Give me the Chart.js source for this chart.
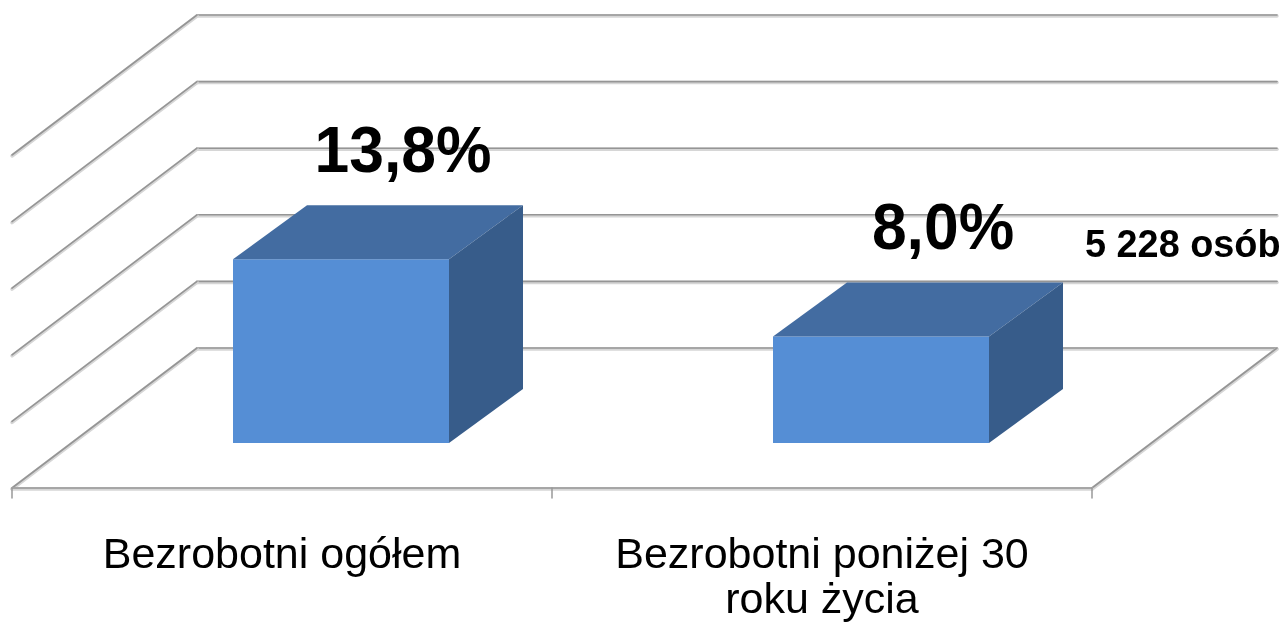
<!DOCTYPE html>
<html>
<head>
<meta charset="utf-8">
<script src="https://cdn.jsdelivr.net/npm/chart.js@4/dist/chart.umd.min.js"></script>
<style>
body { margin: 0; background: #fff; }
</style>
</head>
<body>
<canvas id="chart" width="1288" height="624"></canvas>
<script>
// data
var categories = [["Bezrobotni ogółem"], ["Bezrobotni poniżej 30", "roku życia"]];
var rates = [13.8, 8.0];
var rateLabels = ["13,8%", "8,0%"];
var youngCount = "5 228 osób";

// 3d offsets relative to the bar front plane
var depth = { frontX: -59, frontY: 45, backX: 126, backY: -95, barX: 74, barY: -54 };
var FONT = "'Liberation Sans', Arial, sans-serif";

function gridLine(ctx, x1, y1, x2, y2) {
    ctx.lineCap = 'round';
    ctx.strokeStyle = '#d6d6d6';
    ctx.lineWidth = 3.5;
    ctx.beginPath(); ctx.moveTo(x1, y1 + 1); ctx.lineTo(x2, y2 + 1); ctx.stroke();
    ctx.strokeStyle = '#959595';
    ctx.lineWidth = 1.6;
    ctx.beginPath(); ctx.moveTo(x1, y1); ctx.lineTo(x2, y2); ctx.stroke();
}

// text squeezed a bit horizontally, like the original picture
function squeezedText(ctx, s, x, y, sx) {
    ctx.save();
    ctx.translate(x, y);
    ctx.scale(sx, 1);
    ctx.fillText(s, 0, 0);
    ctx.restore();
}

var box3d = {
    id: 'box3d',
    beforeDatasetsDraw: function(chart) {
        var ctx = chart.ctx, a = chart.chartArea;
        var xs = chart.scales.x, ys = chart.scales.y;
        ctx.save();
        ys.ticks.forEach(function(t) {
            var yb = ys.getPixelForValue(t.value) + depth.backY;
            gridLine(ctx, a.left + depth.backX, yb, a.right + depth.backX, yb);
            gridLine(ctx, a.left + depth.backX, yb, a.left + depth.frontX, yb - depth.backY + depth.frontY);
        });
        var y0 = ys.getPixelForValue(0);
        var yf = y0 + depth.frontY;
        gridLine(ctx, a.right + depth.backX, y0 + depth.backY, a.right + depth.frontX, yf);
        gridLine(ctx, a.left + depth.frontX, yf, a.right + depth.frontX, yf);
        // tick marks on the front edge
        ctx.strokeStyle = '#999999';
        ctx.lineWidth = 1.5;
        for (var i = 0; i <= rates.length; i++) {
            var xt = xs.getPixelForValue(i - 0.5) + depth.frontX;
            ctx.beginPath(); ctx.moveTo(xt, yf); ctx.lineTo(xt, yf + 10); ctx.stroke();
        }
        ctx.restore();
    },
    afterDatasetsDraw: function(chart) {
        var ctx = chart.ctx;
        var meta = chart.getDatasetMeta(0);
        ctx.save();
        meta.data.forEach(function(bar, i) {
            var L = bar.x - bar.width / 2, R = bar.x + bar.width / 2;
            var dx = depth.barX, dy = depth.barY;
            // top
            ctx.fillStyle = '#436ca1';
            ctx.beginPath();
            ctx.moveTo(L, bar.y); ctx.lineTo(R, bar.y);
            ctx.lineTo(R + dx, bar.y + dy); ctx.lineTo(L + dx, bar.y + dy);
            ctx.closePath(); ctx.fill();
            // side
            ctx.fillStyle = '#375c8a';
            ctx.beginPath();
            ctx.moveTo(R, bar.y); ctx.lineTo(R + dx, bar.y + dy);
            ctx.lineTo(R + dx, bar.base + dy); ctx.lineTo(R, bar.base);
            ctx.closePath(); ctx.fill();
            // value label
            ctx.fillStyle = '#000';
            ctx.font = 'bold 65px ' + FONT;
            ctx.textAlign = 'center';
            ctx.textBaseline = 'alphabetic';
            var ly = bar.y + dy - 33;
            squeezedText(ctx, rateLabels[i], bar.x + 62, ly, 0.96);
            if (i === 1) {
                ctx.font = 'bold 39px ' + FONT;
                ctx.textAlign = 'left';
                squeezedText(ctx, youngCount, R + dx + 22, ly + 8, 0.97);
            }
        });
        ctx.restore();
    },
    afterDraw: function(chart) {
        var ctx = chart.ctx, xs = chart.scales.x, ys = chart.scales.y;
        var yf = ys.getPixelForValue(0) + depth.frontY;
        ctx.save();
        ctx.fillStyle = '#000';
        ctx.font = '43px ' + FONT;
        ctx.textAlign = 'center';
        ctx.textBaseline = 'alphabetic';
        categories.forEach(function(lines, i) {
            var cx = xs.getPixelForValue(i) + depth.frontX;
            lines.forEach(function(s, k) {
                ctx.fillText(s, cx, yf + 80 + k * 45);
            });
        });
        ctx.restore();
    }
};

new Chart(document.getElementById('chart').getContext('2d'), {
    type: 'bar',
    data: {
        labels: categories,
        datasets: [{
            data: rates,
            backgroundColor: '#558ed5',
            borderWidth: 0,
            categoryPercentage: 0.8,
            barPercentage: 0.5
        }]
    },
    options: {
        responsive: false,
        animation: false,
        layout: { padding: { left: 71, right: 137, top: 110, bottom: 181 } },
        plugins: { legend: { display: false }, tooltip: { enabled: false } },
        scales: {
            x: { display: false },
            y: { display: false, min: 0, max: 25, ticks: { stepSize: 5 } }
        }
    },
    plugins: [box3d]
});
</script>
</body>
</html>
